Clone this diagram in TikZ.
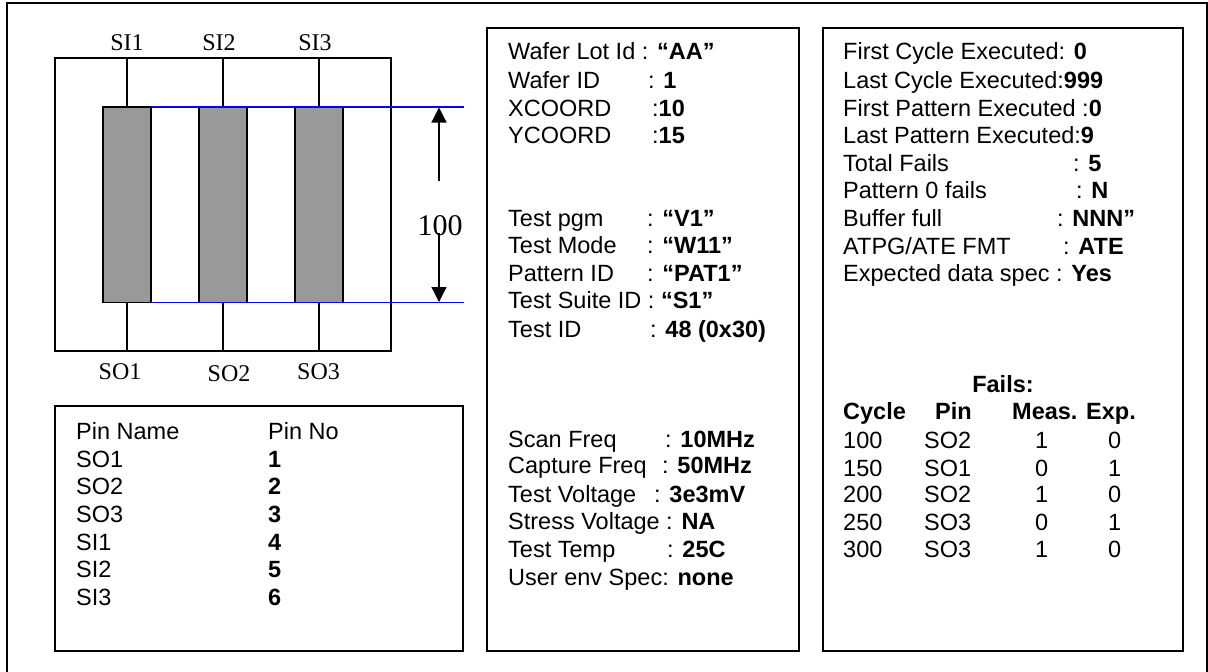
\documentclass[tikz,border=0pt]{standalone}
\usepackage{fontspec}
\setmainfont{Liberation Sans}
\newfontfamily\tnr{Liberation Serif}
\usetikzlibrary{arrows.meta}
\tikzset{
  x=1pt,y=-1pt,
  frame/.style={draw=black,line width=1.4pt,fill=white},
  chip/.style={draw=black,line width=1.4pt,fill=black!40},
  wire/.style={draw=black,line width=1.2pt},
  blue line/.style={draw=blue,line width=1.4pt},
  pinlabel/.style={anchor=base,font=\tnr\fontsize{24}{26}\selectfont,inner sep=0pt},
  tx/.style={anchor=base west,inner sep=0pt,font=\fontsize{23.5}{27}\selectfont},
  cen/.style={anchor=base,inner sep=0pt,font=\fontsize{23.5}{27}\selectfont},
  dim/.style={draw=black,line width=1.2pt,-{Triangle[length=15pt,width=15pt]}},
}
\newcommand{\tl}[3]{\node[tx] at (#1,#2) {#3};}
\newcommand{\tc}[3]{\node[cen] at (#1,#2) {#3};}
\begin{document}
\begin{tikzpicture}
\useasboundingbox (0,0) rectangle (1208,672);
\fill[white] (0,0) rectangle (1208,672);
\coordinate (fbl) at (7,672); \coordinate (ftl) at (7,3);
\coordinate (ftr) at (1207,3); \coordinate (fbr) at (1207,672);
\draw[draw=black,line width=1.4pt] (fbl) -- (ftl) -- (ftr) -- (fbr);
\draw[frame] (55,58) rectangle (391,351);
\foreach \n/\x in {a/103,b/199,c/295}{
  \draw[chip] (\x,107) rectangle ++(48,195.5);
}
\foreach \x in {127,223,319}{
  \draw[wire] (\x,58) -- (\x,107);
  \draw[wire] (\x,302.5) -- (\x,351);
}
\coordinate (bla) at (151,107); \coordinate (blb) at (464,107);
\coordinate (blc) at (151,302.5); \coordinate (bld) at (464,302.5);
\draw[blue line] (bla) -- (blb);
\draw[blue line] (blc) -- (bld);
\node[pinlabel] (si1) at (127,50) {SI1};
\node[pinlabel] (si2) at (219,50) {SI2};
\node[pinlabel] (si3) at (315,50) {SI3};
\node[pinlabel] (so1) at (120,379) {SO1};
\node[pinlabel] (so2) at (229,381) {SO2};
\node[pinlabel] (so3) at (318.5,379) {SO3};
\node[pinlabel,font=\tnr\fontsize{30}{32}\selectfont] (hund) at (440,235) {100};
\coordinate (u1) at (439,180.5); \coordinate (u2) at (439,107.5);
\coordinate (d1) at (439,233); \coordinate (d2) at (439,302);
\draw[dim] (u1) -- (u2);
\draw[dim] (d1) -- (d2);
% pin table
\draw[frame] (55,406) rectangle (463,651);
\tl{76}{439}{Pin Name}\tl{268}{439}{Pin No}
\foreach \y/\a/\b in {467/SO1/1,494/SO2/2,522/SO3/3,550/SI1/4,577/SI2/5,605/SI3/6}{
  \tl{76}{\y}{\a}\tl{268}{\y}{\textbf{\b}}
}
% middle
\draw[frame] (487,28) rectangle (799,651);
\tl{508}{59}{Wafer Lot Id : \textbf{“AA”}}
\foreach \y/\a/\cx/\b in {
 88/{Wafer ID}/648/{: \textbf{1}},
 116/{XCOORD}/652/{:\textbf{10}},
 143/{YCOORD}/652/{:\textbf{15}},
 226/{Test pgm}/647/{: \textbf{“V1”}},
 253/{Test Mode}/647/{: \textbf{“W11”}},
 281/{Pattern ID}/647/{: \textbf{“PAT1”}},
 337/{Test ID}/650/{: \textbf{48 (0x30)}},
 447/{Scan Freq}/665/{: \textbf{10MHz}},
 473/{Capture Freq}/662/{: \textbf{50MHz}},
 502/{Test Voltage}/654/{: \textbf{3e3mV}},
 557/{Test Temp}/667/{: \textbf{25C}}}{
  \tl{508}{\y}{\a}\tl{\cx}{\y}{\b}
}
\tl{508}{308}{Test Suite ID : \textbf{“S1”}}
\tl{508}{529}{Stress Voltage : \textbf{NA}}
\tl{508}{585}{User env Spec: \textbf{none}}
% right
\draw[frame] (823,28) rectangle (1183,651);
\tl{843}{59}{First Cycle Executed: \textbf{0}}
\tl{843}{88}{Last Cycle Executed:\textbf{999}}
\tl{843}{116}{First Pattern Executed :\textbf{0}}
\tl{843}{143}{Last Pattern Executed:\textbf{9}}
\tl{843}{171}{Total Fails}\tl{1073}{171}{: \textbf{5}}
\tl{843}{198}{Pattern 0 fails}\tl{1076}{198}{: \textbf{N}}
\tl{843}{226}{Buffer full}\tl{1057}{226}{: \textbf{NNN”}}
\tl{843}{254}{ATPG/ATE FMT}\tl{1063}{254}{: \textbf{ATE}}
\tl{843}{281}{Expected data spec : \textbf{Yes}}
\tc{1003}{392}{\textbf{Fails:}}
\tl{843}{419}{\textbf{Cycle}}\tl{935}{419}{\textbf{Pin}}\tl{1012}{419}{\textbf{Meas.}}\tl{1086}{419}{\textbf{Exp.}}
\foreach \y/\c/\p/\m/\e in {448/100/SO2/1/0,476/150/SO1/0/1,502/200/SO2/1/0,530/250/SO3/0/1,557/300/SO3/1/0}{
  \tl{843}{\y}{\c}\tl{924}{\y}{\p}\tl{1035}{\y}{\m}\tl{1108}{\y}{\e}
}
\end{tikzpicture}
\end{document}
